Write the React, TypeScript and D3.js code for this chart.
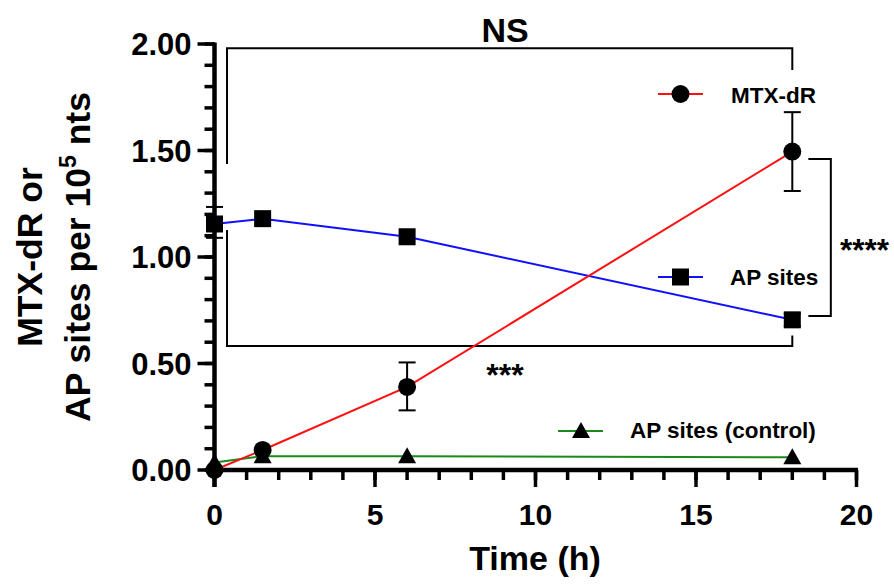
import React from "react";
import * as d3 from "d3";

const times = [0, 1.5, 6, 18];
const mtxMean = [0.0, 0.094, 0.39, 1.495];
const mtxErrLo = [0.0, 0.094, 0.28, 1.31];
const mtxErrHi = [0.0, 0.094, 0.505, 1.68];
const apMean = [1.155, 1.18, 1.095, 0.705];
const apErrLo = [1.09, 1.18, 1.095, 0.675];
const apErrHi = [1.235, 1.18, 1.095, 0.735];
const ctrlMean = [0.035, 0.065, 0.065, 0.06];

const yMajor = [0, 0.5, 1.0, 1.5, 2.0];
const yMinor = d3.range(0, 2.0001, 0.1);
const xMajor = [0, 5, 10, 15, 20];
const xMinor = d3.range(0, 20.001, 1);

const legendLabels = ["MTX-dR", "AP sites", "AP sites (control)"];
const sigLabels = ["NS", "***", "****"];

const W = 894;
const H = 586;
const FONT = "'Liberation Sans', Arial, Helvetica, sans-serif";

export default function App() {
  const x = d3.scaleLinear().domain([0, 20]).range([214.5, 856.5]);
  const y = d3.scaleLinear().domain([0, 2]).range([470, 44]);

  const line = d3
    .line<number>()
    .x((_, i) => x(times[i]))
    .y((d) => y(d));

  const circle = (cx: number, cy: number, k: string) => (
    <circle key={k} cx={cx} cy={cy} r={9} fill="#000" />
  );
  const square = (cx: number, cy: number, k: string) => (
    <rect key={k} x={cx - 8.5} y={cy - 8.5} width={17} height={17} fill="#000" />
  );
  const triangle = (cx: number, cy: number, k: string) => (
    <path
      key={k}
      d={`M${cx},${cy - 9} L${cx + 9},${cy + 7} L${cx - 9},${cy + 7} Z`}
      fill="#000"
    />
  );

  const errBar = (t: number, lo: number, hi: number, k: string) => {
    if (hi - lo < 1e-6) return null;
    const cx = x(t);
    return (
      <g key={k} stroke="#000" strokeWidth={2}>
        <line x1={cx} x2={cx} y1={y(lo)} y2={y(hi)} />
        <line x1={cx - 8.5} x2={cx + 8.5} y1={y(lo)} y2={y(lo)} />
        <line x1={cx - 8.5} x2={cx + 8.5} y1={y(hi)} y2={y(hi)} />
      </g>
    );
  };

  const nsLeftT = 0.39;
  const rightT = 18;

  return (
    <svg
      width={W}
      height={H}
      style={{ position: "absolute", left: 0, top: 0, background: "#fff" }}
      fontFamily={FONT}
      fontWeight="bold"
    >
      {/* Y axis */}
      <g stroke="#000">
        <line x1={x(0)} x2={x(0)} y1={y(2) - 1.5} y2={y(0) + 17} strokeWidth={4.5} />
        {yMinor.map((v, i) => (
          <line key={"ym" + i} x1={x(0) - 10} x2={x(0)} y1={y(v)} y2={y(v)} strokeWidth={3.5} />
        ))}
        {yMajor.map((v, i) => (
          <line key={"yM" + i} x1={x(0) - 17} x2={x(0)} y1={y(v)} y2={y(v)} strokeWidth={3.5} />
        ))}
      </g>
      {yMajor.map((v, i) => (
        <text key={"yl" + i} x={x(0) - 23} y={y(v) + 11} textAnchor="end" fontSize={31} fill="#000">
          {v.toFixed(2)}
        </text>
      ))}

      {/* X axis */}
      <g stroke="#000">
        <line x1={x(0)} x2={x(20) + 1.5} y1={y(0)} y2={y(0)} strokeWidth={4.5} />
        {xMinor.map((v, i) => (
          <line key={"xm" + i} x1={x(v)} x2={x(v)} y1={y(0)} y2={y(0) + 10} strokeWidth={3.5} />
        ))}
        {xMajor.map((v, i) => (
          <line key={"xM" + i} x1={x(v)} x2={x(v)} y1={y(0)} y2={y(0) + 17} strokeWidth={3.5} />
        ))}
      </g>
      {xMajor.map((v, i) => (
        <text key={"xl" + i} x={x(v)} y={525} textAnchor="middle" fontSize={30} fill="#000">
          {v}
        </text>
      ))}

      {/* Axis titles */}
      <text x={535} y={570} textAnchor="middle" fontSize={34} fill="#000">
        Time (h)
      </text>
      <g transform={`translate(0, ${y(1)})`}>
        <text transform="translate(42,0) rotate(-90)" textAnchor="middle" fontSize={35.5} fill="#000">
          MTX-dR or
        </text>
        <text transform="translate(90,0) rotate(-90)" textAnchor="middle" fontSize={35.5} fill="#000">
          <tspan>AP sites per 10</tspan>
          <tspan fontSize={23} dy={-14}>5</tspan>
          <tspan dy={14}> nts</tspan>
        </text>
      </g>

      {/* Significance brackets */}
      <g stroke="#000" strokeWidth={2} fill="none">
        <path d={`M${x(nsLeftT)},${y(1.437)} V${y(1.98)} H${x(rightT)} V${y(1.878)}`} />
        <path d={`M${x(nsLeftT)},${y(1.127)} V${y(0.582)} H${x(rightT)} V${y(0.632)}`} />
        <path d={`M${x(18.5)},${y(1.46)} H${x(19.2)} V${y(0.723)} H${x(18.5)}`} />
      </g>
      <text x={505} y={42} textAnchor="middle" fontSize={34} fill="#000">
        {sigLabels[0]}
      </text>
      <text x={505} y={386} textAnchor="middle" fontSize={32} fill="#000">
        {sigLabels[1]}
      </text>
      <text x={840} y={261} textAnchor="start" fontSize={31.5} fill="#000">
        {sigLabels[2]}
      </text>

      {/* Series lines */}
      <path d={line(ctrlMean) || ""} fill="none" stroke="#1a8a1a" strokeWidth={2} />
      <path d={line(apMean) || ""} fill="none" stroke="#1010ff" strokeWidth={2} />
      <path d={line(mtxMean) || ""} fill="none" stroke="#ff1010" strokeWidth={2} />

      {/* Error bars */}
      {times.map((t, i) => errBar(t, apErrLo[i], apErrHi[i], "ae" + i))}
      {times.map((t, i) => errBar(t, mtxErrLo[i], mtxErrHi[i], "me" + i))}

      {/* Markers */}
      {times.map((t, i) => triangle(x(t), y(ctrlMean[i]), "ct" + i))}
      {times.map((t, i) => square(x(t), y(apMean[i]), "ap" + i))}
      {times.map((t, i) => circle(x(t), y(mtxMean[i]), "mt" + i))}

      {/* Legend */}
      <g>
        <line x1={658} x2={703} y1={94} y2={94} stroke="#ff1010" strokeWidth={2} />
        {circle(680.5, 94, "lg0")}
        <text x={731} y={103} fontSize={22.5} fill="#000">{legendLabels[0]}</text>

        <line x1={658} x2={703} y1={277} y2={277} stroke="#1010ff" strokeWidth={2} />
        {square(680.5, 277, "lg1")}
        <text x={730} y={285} fontSize={22.5} fill="#000">{legendLabels[1]}</text>

        <line x1={558} x2={603} y1={431} y2={431} stroke="#1a8a1a" strokeWidth={2} />
        {triangle(581, 431, "lg2")}
        <text x={630} y={438} fontSize={22.5} fill="#000">{legendLabels[2]}</text>
      </g>
    </svg>
  );
}
